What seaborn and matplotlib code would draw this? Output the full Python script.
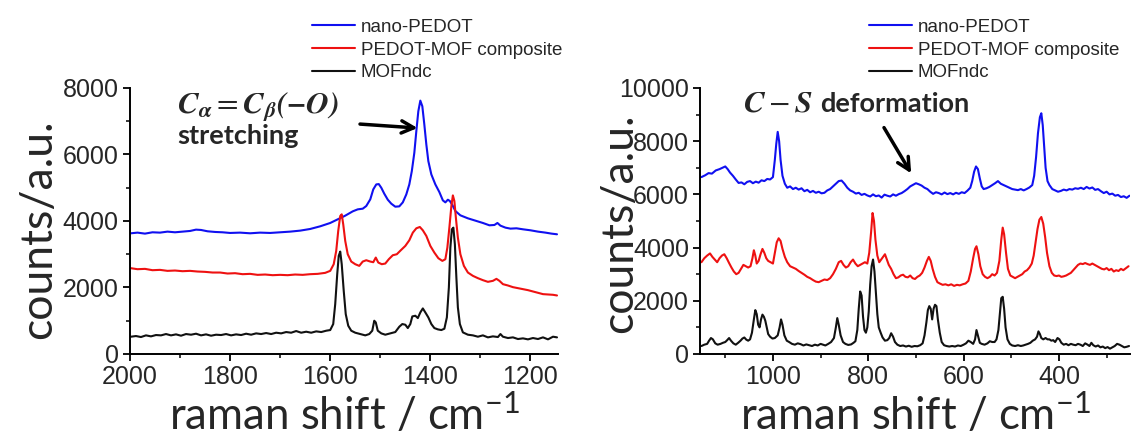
import numpy as np
import pandas as pd
import matplotlib
matplotlib.use("Agg")
import matplotlib.pyplot as plt
from matplotlib.ticker import MultipleLocator
import seaborn as sns

# ---- valores (deslocamento raman em cm-1, contagens) ----
SERIES = ["nano-PEDOT", "PEDOT-MOF composite", "MOFndc"]
CORES = {"nano-PEDOT": "#1010f0", "PEDOT-MOF composite": "#ee1111", "MOFndc": "#111111"}

# painel esquerdo (2000 - 1150 cm-1)
esq_pedot_x = [1998, 1985, 1970, 1955, 1940, 1925, 1910, 1895, 1880, 1868, 1858, 1845, 1830, 1815,
               1800, 1780, 1760, 1740, 1720, 1700, 1680, 1660, 1640, 1620, 1600, 1585, 1570, 1555,
               1545, 1535, 1528, 1520, 1514, 1508, 1503, 1498, 1492, 1485, 1478, 1470, 1462, 1455,
               1448, 1442, 1437, 1432, 1428, 1424, 1420, 1416, 1412, 1408, 1404, 1398, 1390, 1382,
               1375, 1370, 1365, 1361, 1356, 1350, 1340, 1325, 1310, 1295, 1282, 1272, 1266, 1260,
               1250, 1240, 1228, 1215, 1200, 1185, 1170, 1158, 1147]
esq_pedot_y = [3630, 3650, 3620, 3660, 3650, 3680, 3660, 3680, 3700, 3740, 3730, 3690, 3670, 3660,
               3640, 3650, 3630, 3650, 3640, 3660, 3680, 3710, 3760, 3840, 3940, 4050, 4160, 4290,
               4350, 4370, 4450, 4650, 4950, 5100, 5110, 5000, 4820, 4640, 4520, 4430, 4440, 4560,
               4800, 5100, 5500, 6050, 6700, 7300, 7620, 7450, 6900, 6300, 5800, 5400, 5100, 4870,
               4620, 4560, 4640, 4600, 4480, 4300, 4170, 4080, 4010, 3940, 3870, 3880, 3940, 3860,
               3800, 3770, 3780, 3750, 3720, 3680, 3650, 3620, 3600]

esq_comp_x = [1998, 1985, 1970, 1955, 1940, 1925, 1910, 1895, 1880, 1865, 1850, 1835, 1820, 1805,
              1790, 1775, 1760, 1745, 1730, 1715, 1700, 1685, 1670, 1655, 1640, 1625, 1610, 1600,
              1593, 1588, 1584, 1580, 1577, 1574, 1570, 1565, 1558, 1550, 1542, 1535, 1528, 1520,
              1514, 1509, 1504, 1497, 1490, 1483, 1475, 1467, 1459, 1450, 1442, 1435, 1428, 1421,
              1415, 1408, 1400, 1392, 1384, 1376, 1370, 1366, 1362, 1358, 1355, 1352, 1349, 1345,
              1340, 1333, 1325, 1315, 1305, 1295, 1285, 1275, 1268, 1262, 1255, 1245, 1235, 1225,
              1215, 1205, 1195, 1185, 1175, 1165, 1155, 1147]
esq_comp_y = [2580, 2550, 2560, 2520, 2530, 2500, 2510, 2490, 2500, 2480, 2470, 2450, 2450, 2420,
              2430, 2400, 2410, 2380, 2390, 2370, 2380, 2370, 2390, 2380, 2400, 2410, 2440, 2500,
              2700, 3100, 3700, 4150, 4200, 3900, 3400, 3000, 2780, 2700, 2650, 2780, 2820, 2780,
              2760, 2900, 2750, 2700, 2720, 2850, 2970, 3000, 3120, 3250, 3420, 3650, 3780, 3820,
              3720, 3550, 3250, 3050, 2880, 2800, 2850, 3200, 3800, 4450, 4770, 4600, 4100, 3500,
              3000, 2650, 2450, 2350, 2280, 2220, 2170, 2200, 2260, 2200, 2100, 2060, 2010, 1980,
              1950, 1920, 1880, 1840, 1800, 1790, 1780, 1760]

esq_mof_x = [1998, 1988, 1978, 1968, 1958, 1948, 1938, 1928, 1918, 1908, 1898, 1888, 1878, 1868,
             1858, 1848, 1838, 1828, 1818, 1808, 1798, 1788, 1778, 1768, 1758, 1748, 1738, 1728,
             1718, 1708, 1698, 1688, 1678, 1668, 1658, 1648, 1638, 1628, 1618, 1608, 1600, 1594,
             1590, 1586, 1583, 1580, 1577, 1573, 1569, 1564, 1558, 1550, 1540, 1530, 1522, 1516,
             1512, 1509, 1505, 1498, 1490, 1480, 1470, 1462, 1456, 1450, 1445, 1440, 1436, 1430,
             1425, 1420, 1415, 1410, 1404, 1398, 1392, 1385, 1378, 1372, 1367, 1363, 1360, 1357,
             1354, 1351, 1348, 1345, 1341, 1335, 1325, 1315, 1305, 1295, 1285, 1275, 1265, 1260,
             1255, 1245, 1235, 1225, 1215, 1205, 1195, 1185, 1175, 1165, 1155, 1147]
esq_mof_y = [520, 540, 510, 560, 530, 570, 560, 600, 560, 590, 550, 600, 580, 610,
             560, 590, 550, 580, 570, 600, 560, 590, 570, 610, 580, 620, 600, 630,
             600, 640, 620, 660, 640, 690, 640, 670, 640, 680, 660, 700, 720, 900,
             1500, 2400, 2950, 3080, 2700, 1900, 1200, 850, 700, 640, 600, 560, 600, 700,
             1000, 950, 700, 620, 580, 620, 660, 820, 900, 880, 780, 900, 1130, 1150,
             1080, 1250, 1370, 1250, 1100, 900, 780, 740, 720, 760, 1100, 2000, 3200, 3750,
             3800, 3300, 2300, 1400, 900, 650, 580, 560, 520, 560, 500, 530, 510, 600,
             520, 480, 500, 450, 470, 440, 480, 450, 500, 440, 520, 500]

# painel direito (1150 - 250 cm-1)
dir_pedot_x = [1150, 1142, 1135, 1128, 1120, 1112, 1106, 1100, 1095, 1090, 1084, 1078, 1072, 1066,
               1060, 1054, 1048, 1042, 1036, 1030, 1024, 1018, 1012, 1006, 1000, 996, 993, 990,
               987, 984, 980, 975, 970, 964, 958, 952, 946, 940, 934, 928, 922, 916, 910, 904,
               898, 892, 886, 880, 874, 868, 862, 856, 850, 844, 838, 832, 826, 820, 814, 808,
               802, 796, 790, 784, 778, 772, 766, 760, 754, 748, 742, 736, 730, 724, 718, 712,
               706, 700, 694, 688, 682, 676, 670, 664, 658, 652, 646, 640, 634, 628, 622, 616,
               610, 604, 598, 592, 586, 582, 578, 574, 570, 566, 562, 558, 552, 546, 540, 534,
               528, 522, 516, 510, 504, 498, 492, 486, 480, 474, 468, 462, 456, 452, 448, 444,
               440, 437, 434, 431, 428, 424, 420, 414, 408, 402, 396, 390, 384, 378, 372, 366,
               360, 354, 348, 342, 336, 330, 324, 318, 312, 306, 300, 294, 288, 282, 276, 270,
               264, 258, 252]
dir_pedot_y = [6650, 6720, 6800, 6780, 6900, 6950, 7000, 7050, 6950, 6820, 6700, 6560, 6430, 6450,
               6380, 6470, 6500, 6420, 6480, 6440, 6530, 6500, 6580, 6560, 6650, 7300, 7900, 8350,
               8000, 7300, 6700, 6400, 6250, 6300, 6200, 6250, 6180, 6230, 6120, 6170, 6080, 6130,
               6060, 6100, 6040, 6060, 6150, 6200, 6300, 6400, 6500, 6520, 6400, 6250, 6150, 6100,
               6030, 6060, 5980, 6020, 5960, 5920, 6000, 5930, 5960, 5880, 5990, 5950, 5920, 6000,
               5950, 6010, 6050, 6120, 6200, 6300, 6360, 6420, 6380, 6330, 6250, 6200, 6100, 6020,
               6080, 6050, 6000, 6070, 6010, 6050, 6000, 6060, 6020, 6080, 6050, 6140, 6250, 6500,
               6850, 7050, 6950, 6600, 6300, 6200, 6230, 6280, 6350, 6420, 6500, 6400, 6350, 6300,
               6250, 6200, 6180, 6160, 6200, 6150, 6200, 6260, 6350, 6700, 7400, 8300, 8900, 9050,
               8600, 7800, 7000, 6500, 6350, 6200, 6150, 6100, 6130, 6180, 6150, 6200, 6180, 6230,
               6210, 6250, 6200, 6280, 6220, 6260, 6170, 6200, 6120, 6050, 6100, 6000, 6030, 5950,
               5980, 5900, 5930, 5870, 5950]

dir_comp_x = [1150, 1144, 1138, 1132, 1127, 1122, 1117, 1112, 1107, 1102, 1097, 1092, 1087, 1082,
              1077, 1072, 1067, 1062, 1057, 1052, 1047, 1043, 1040, 1037, 1034, 1030, 1026, 1022,
              1018, 1014, 1010, 1005, 1000, 996, 992, 988, 984, 980, 975, 970, 964, 958, 952, 946,
              940, 934, 928, 922, 916, 910, 904, 898, 892, 886, 880, 874, 868, 862, 857, 852,
              847, 842, 837, 832, 827, 822, 817, 812, 807, 802, 798, 794, 791, 788, 785, 781,
              777, 773, 769, 765, 761, 757, 752, 747, 742, 737, 732, 727, 722, 717, 712, 707,
              702, 697, 692, 687, 682, 677, 673, 669, 665, 660, 655, 650, 644, 638, 632, 626,
              620, 614, 608, 602, 596, 590, 585, 580, 576, 573, 569, 565, 560, 555, 550, 545,
              540, 535, 530, 525, 521, 518, 515, 511, 507, 502, 497, 492, 487, 482, 477, 472,
              467, 462, 457, 453, 449, 445, 441, 437, 433, 429, 425, 420, 415, 410, 405, 400,
              395, 390, 385, 380, 375, 370, 365, 360, 355, 350, 345, 340, 335, 330, 325, 320,
              315, 310, 305, 300, 295, 290, 285, 280, 275, 270, 265, 260, 254]
dir_comp_y = [3450, 3600, 3700, 3780, 3650, 3550, 3450, 3600, 3700, 3750, 3600, 3420, 3250, 3100,
              3000, 3050, 3200, 3350, 3300, 3250, 3300, 3600, 3900, 3700, 3400, 3500, 3750, 3950,
              3800, 3600, 3500, 3450, 3400, 3800, 4200, 4350, 4250, 3950, 3650, 3450, 3300, 3250,
              3200, 3120, 3050, 2980, 2900, 2850, 2780, 2720, 2700, 2750, 2800, 2780, 2850, 3000,
              3200, 3450, 3500, 3350, 3250, 3300, 3450, 3550, 3400, 3300, 3350, 3400, 3450, 3400,
              3800, 4600, 5300, 5000, 4300, 3700, 3450, 3550, 3650, 3750, 3550, 3350, 3200, 3000,
              2850, 2880, 2950, 2980, 2900, 2880, 2950, 2850, 2820, 2900, 2950, 3050, 3250, 3500,
              3650, 3500, 3200, 2900, 2700, 2650, 2600, 2620, 2580, 2620, 2560, 2600, 2580, 2620,
              2650, 2750, 3100, 3600, 3950, 4050, 3750, 3300, 3000, 2900, 2850, 2900, 3000, 2950,
              3050, 3500, 4300, 4750, 4500, 3800, 3200, 2950, 2900, 2850, 2900, 2950, 3000, 3100,
              3150, 3250, 3400, 3700, 4200, 4700, 5050, 5150, 4900, 4400, 3800, 3300, 3050, 2950,
              2930, 2950, 2900, 2920, 2950, 3000, 3050, 3150, 3250, 3350, 3400, 3380, 3420, 3380,
              3350, 3400, 3350, 3300, 3250, 3200, 3180, 3230, 3150, 3200, 3100, 3150, 3120, 3200,
              3150, 3220, 3300]

dir_mof_x = [1150, 1144, 1138, 1134, 1130, 1126, 1121, 1116, 1110, 1105, 1100, 1096, 1092, 1088,
             1083, 1078, 1073, 1068, 1064, 1060, 1056, 1052, 1048, 1044, 1040, 1037, 1034, 1031,
             1028, 1025, 1022, 1019, 1016, 1013, 1010, 1006, 1001, 996, 990, 986, 983, 980, 976,
             971, 966, 960, 954, 948, 942, 936, 930, 924, 918, 912, 906, 900, 895, 890, 884,
             878, 872, 868, 865, 862, 858, 853, 848, 842, 836, 831, 827, 823, 820, 817, 814,
             811, 808, 805, 802, 799, 796, 793, 790, 787, 784, 781, 778, 774, 770, 765, 760,
             756, 752, 748, 744, 739, 733, 727, 721, 715, 709, 703, 697, 691, 686, 682, 678,
             675, 672, 669, 666, 663, 660, 657, 654, 650, 646, 641, 636, 630, 624, 618, 612,
             606, 600, 595, 590, 585, 580, 576, 573, 570, 566, 562, 556, 550, 545, 540, 535,
             531, 527, 524, 521, 518, 515, 512, 508, 503, 498, 492, 486, 480, 475, 470, 465,
             460, 455, 450, 446, 443, 440, 437, 433, 428, 424, 420, 416, 412, 408, 403, 399,
             395, 390, 385, 380, 375, 370, 365, 360, 355, 350, 345, 340, 336, 332, 328, 323,
             318, 313, 308, 303, 298, 293, 288, 283, 278, 273, 268, 263, 258, 253]
dir_mof_y = [300, 350, 380, 500, 600, 550, 400, 350, 380, 420, 450, 520, 600, 500,
             400, 350, 420, 500, 580, 620, 540, 500, 550, 800, 1300, 1650, 1500, 1100,
             1000, 1300, 1480, 1400, 1250, 1000, 750, 650, 580, 600, 700, 1000, 1300, 1100, 700,
             500, 450, 380, 350, 400, 370, 320, 360, 330, 300, 350, 320, 380, 350, 320, 380,
             450, 600, 1000, 1350, 1100, 700, 450, 380, 340, 360, 420, 480, 900, 1700, 2350, 2200,
             1400, 900, 800, 1000, 1600, 2600, 3300, 3550, 3100, 2300, 1500, 1000, 800, 620, 500, 520,
             600, 780, 650, 450, 350, 300, 320, 280, 310, 270, 300, 290, 330, 400, 700, 1200,
             1650, 1800, 1700, 1300, 1700, 1850, 1800, 1300, 800, 450, 330, 300, 280, 300, 280, 320,
             300, 350, 400, 500, 450, 380, 550, 900, 700, 420, 380, 350, 400, 480, 450, 450,
             550, 900, 1500, 2100, 2150, 1700, 1000, 550, 380, 320, 300, 330, 300, 320, 350, 380,
             420, 500, 550, 650, 850, 750, 600, 550, 600, 550, 550, 500, 520, 450, 600, 550,
             420, 350, 380, 330, 380, 350, 330, 380, 350, 300, 400, 350, 300, 420, 330, 280,
             320, 250, 280, 220, 260, 200, 250, 300, 380, 350, 300, 250, 270, 300]


def montar(xs, ys):
    partes = []
    for nome, x, y in zip(SERIES, xs, ys):
        partes.append(pd.DataFrame({"shift": x, "counts": y, "amostra": nome}))
    return pd.concat(partes, ignore_index=True)


df_esq = montar([esq_pedot_x, esq_comp_x, esq_mof_x], [esq_pedot_y, esq_comp_y, esq_mof_y])
df_dir = montar([dir_pedot_x, dir_comp_x, dir_mof_x], [dir_pedot_y, dir_comp_y, dir_mof_y])

sns.set_style("ticks")
plt.rcParams["font.family"] = ["Liberation Sans", "DejaVu Sans"]
plt.rcParams["mathtext.fontset"] = "custom"
plt.rcParams["mathtext.rm"] = "Lato"
plt.rcParams["mathtext.it"] = "Lato:italic"
plt.rcParams["mathtext.bf"] = "Lato:bold"

fig = plt.figure(figsize=(11.36, 4.36), dpi=100)
ax1 = fig.add_axes([0.1144, 0.1881, 0.3768, 0.6101])
ax2 = fig.add_axes([0.6162, 0.1881, 0.3785, 0.6101])

for ax, df in [(ax1, df_esq), (ax2, df_dir)]:
    sns.lineplot(data=df, x="shift", y="counts", hue="amostra", hue_order=SERIES,
                 palette=CORES, linewidth=1.5, ax=ax, sort=True, estimator=None)
    for s in ["left", "bottom"]:
        ax.spines[s].set_linewidth(1.4)
        ax.spines[s].set_color("black")
    sns.despine(ax=ax)
    ax.tick_params(which="major", direction="out", length=5, width=1.3, labelsize=18, pad=3,
                   color="black")
    ax.tick_params(which="minor", direction="out", length=3, width=1.1, color="black")
    ax.set_xlabel("raman shift / cm$^{\\mathrm{-1}}$", family="Lato", fontsize=31.5, va="baseline")
    ax.xaxis.set_label_coords(0.5, -0.286)
    h, l = ax.get_legend_handles_labels()
    ax.legend(h, l, loc="lower left", frameon=False, fontsize=13.5, handlelength=2.3,
              handletextpad=0.3, labelspacing=0.3, borderpad=0, borderaxespad=0,
              bbox_to_anchor=(0.425 if ax is ax1 else 0.393, 1.025))

ax1.set_xlim(2000, 1145)
ax1.set_ylim(0, 8000)
ax1.xaxis.set_major_locator(MultipleLocator(200))
ax1.xaxis.set_minor_locator(MultipleLocator(100))
ax1.yaxis.set_major_locator(MultipleLocator(2000))
ax1.yaxis.set_minor_locator(MultipleLocator(1000))
ax1.set_ylabel("counts/a.u.", family="Lato", fontsize=32, va="center")
ax1.yaxis.set_label_coords(-0.213, 0.47)

ax2.set_xlim(1153, 251)
ax2.set_ylim(0, 10000)
ax2.xaxis.set_major_locator(MultipleLocator(200))
ax2.xaxis.set_minor_locator(MultipleLocator(100))
ax2.yaxis.set_major_locator(MultipleLocator(2000))
ax2.yaxis.set_minor_locator(MultipleLocator(1000))
ax2.set_ylabel("counts/a.u.", family="Lato", fontsize=32, va="center")
ax2.yaxis.set_label_coords(-0.188, 0.49)

# anotações
ax1.text(1906, 7260, r"$\mathbfit{C_{\alpha}} = \mathbfit{C_{\beta}(-O)}$", math_fontfamily="stix",
         fontsize=22.5, va="baseline")
ax1.text(1906, 6330, "stretching", family="Lato", fontweight="bold", fontsize=19.5, va="baseline")
ax1.annotate("", xy=(1420, 6790), xytext=(1546, 6920),
             arrowprops=dict(arrowstyle="->", lw=2.5, color="black", mutation_scale=22))

ax2.text(1062, 9100, r"$\mathbfit{C} - \mathbfit{S}$", math_fontfamily="stix", fontsize=22.5,
         va="baseline")
ax2.text(900, 9100, "deformation", family="Lato", fontweight="bold", fontsize=19.5, va="baseline")
ax2.annotate("", xy=(707, 6700), xytext=(770, 8600),
             arrowprops=dict(arrowstyle="->", lw=2.5, color="black", mutation_scale=22))

plt.savefig("out.png", dpi=100)
plt.close()
